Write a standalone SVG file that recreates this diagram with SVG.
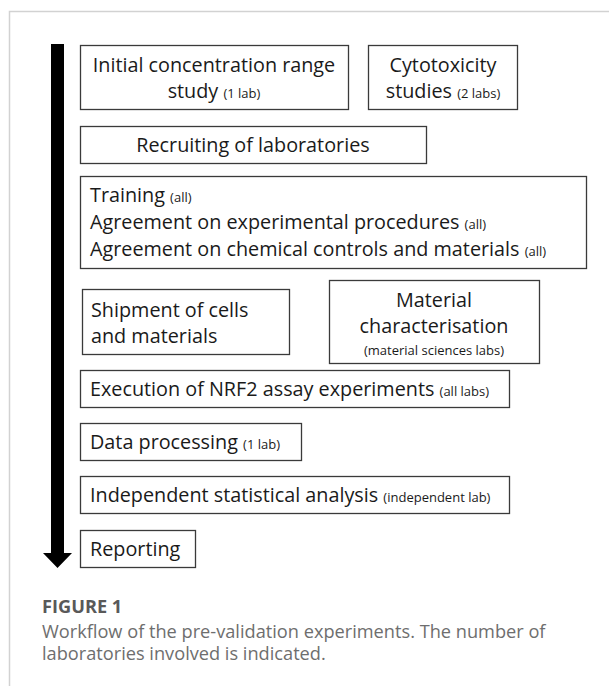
<svg xmlns="http://www.w3.org/2000/svg" width="609" height="686" viewBox="0 0 609 686">
<style>
.box{fill:#fff;stroke:#3a3a3a;stroke-width:1.3}
.t{font-family:"Open Sans","Noto Sans","Liberation Sans",sans-serif;font-size:19.8px;fill:#1a1a1a}
.s{font-size:13px}
.c{text-anchor:middle}
.frame{stroke:#d2d2d2;stroke-width:1.5;fill:none}
.cap{font-family:"Open Sans","Noto Sans","Liberation Sans",sans-serif;fill:#6e6e6e;font-size:18.2px}
</style>
<rect width="609" height="686" fill="#fff"/>
<path class="frame" d="M9.5,686 V11.5 H609"/>
<g id="connectors">
<path d="M51,44 H64 V553 H72 L57.5,568 L43,553 H51 Z" fill="#000"/>
</g>
<g id="n1">
<rect class="box" x="80.5" y="45.5" width="268" height="64"/>
<text class="t c" x="214" y="72">Initial concentration range</text>
<text class="t c" x="214" y="98">study <tspan class="s">(1 lab)</tspan></text>
</g>
<g id="n2">
<rect class="box" x="368.5" y="45.5" width="149" height="64"/>
<text class="t c" x="443" y="72">Cytotoxicity</text>
<text class="t c" x="443" y="98">studies <tspan class="s">(2 labs)</tspan></text>
</g>
<g id="n3">
<rect class="box" x="80.5" y="126.5" width="346" height="37"/>
<text class="t c" x="253" y="152">Recruiting of laboratories</text>
</g>
<g id="n4">
<rect class="box" x="80.5" y="176.5" width="506" height="92"/>
<text class="t" x="90" y="202">Training <tspan class="s">(all)</tspan></text>
<text class="t" x="90" y="229">Agreement on experimental procedures <tspan class="s">(all)</tspan></text>
<text class="t" x="90" y="256">Agreement on chemical controls and materials <tspan class="s">(all)</tspan></text>
</g>
<g id="n5">
<rect class="box" x="82.5" y="289.5" width="207" height="65"/>
<text class="t" x="91" y="317">Shipment of cells</text>
<text class="t" x="91" y="343">and materials</text>
</g>
<g id="n6">
<rect class="box" x="329.5" y="280.5" width="210" height="83"/>
<text class="t c" x="434" y="307">Material</text>
<text class="t c" x="434" y="333">characterisation</text>
<text class="t c s" x="434" y="355">(material sciences labs)</text>
</g>
<g id="n7">
<rect class="box" x="80.5" y="370.5" width="429" height="37"/>
<text class="t" x="90" y="396">Execution of NRF2 assay experiments <tspan class="s">(all labs)</tspan></text>
</g>
<g id="n8">
<rect class="box" x="80.5" y="423.5" width="221" height="37"/>
<text class="t" x="90" y="449">Data processing <tspan class="s">(1 lab)</tspan></text>
</g>
<g id="n9">
<rect class="box" x="80.5" y="476.5" width="429" height="37"/>
<text class="t" x="90" y="502">Independent statistical analysis <tspan class="s">(independent lab)</tspan></text>
</g>
<g id="n10">
<rect class="box" x="80.5" y="530.5" width="115" height="37"/>
<text class="t" x="90" y="556">Reporting</text>
</g>
<g id="caption">
<text class="cap" x="42" y="612.5" font-weight="700" style="fill:#595959">FIGURE 1</text>
<text class="cap" x="42" y="638">Workflow of the pre-validation experiments. The number of</text>
<text class="cap" x="42" y="660">laboratories involved is indicated.</text>
</g>
</svg>
